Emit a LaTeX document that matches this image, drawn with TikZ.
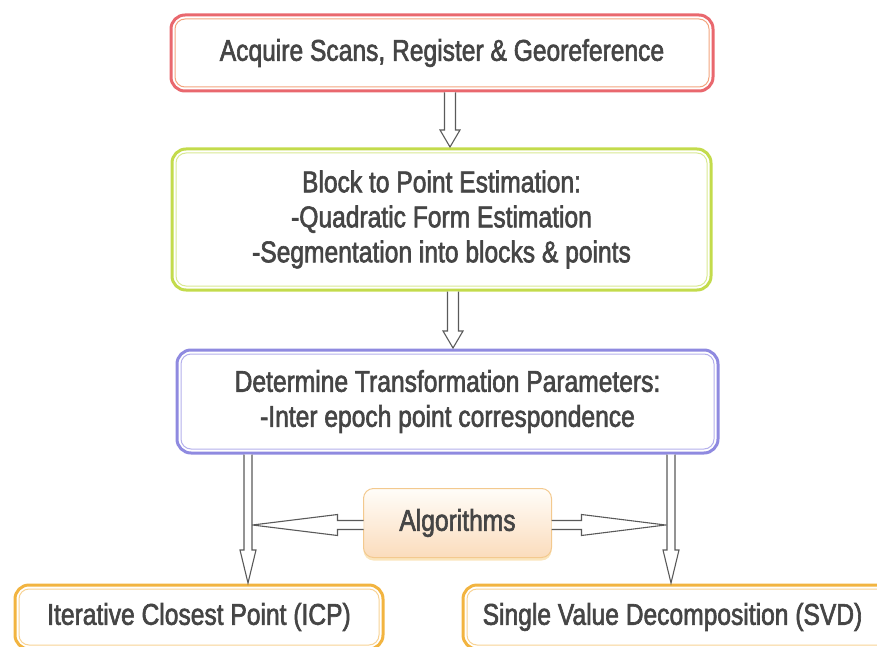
\documentclass[tikz,border=0pt]{standalone}
\usepackage{fontspec}
\setmainfont{Liberation Sans}[FakeStretch=0.82, FakeBold=2]
\usetikzlibrary{calc,shadows}

\definecolor{scanred}{HTML}{E9686E}
\definecolor{scaninner}{HTML}{F3A57E}
\definecolor{blockgreen}{HTML}{C3DB4C}
\definecolor{blockinner}{HTML}{D9E992}
\definecolor{paramblue}{HTML}{8F8AE0}
\definecolor{paraminner}{HTML}{B4B0EC}
\definecolor{methodorange}{HTML}{F2B440}
\definecolor{methodinner}{HTML}{F8D394}
\definecolor{algoedge}{HTML}{F3C98E}
\definecolor{algotop}{HTML}{FFFDF9}
\definecolor{algobottom}{HTML}{FBDCBC}
\definecolor{txtgray}{HTML}{454545}
\definecolor{arrowgray}{HTML}{5A5A5A}

\tikzset{
  stage/.style={draw=#1, line width=3pt, rounded corners=14pt, outer sep=0pt,
    fill=white, align=center, text=txtgray, font=\fontsize{30}{35}\selectfont},
  inner/.style={draw=#1, line width=1pt, rounded corners=10pt},
  algobox/.style={draw=algoedge, line width=1pt, rounded corners=10pt, outer sep=0pt,
    top color=algotop, bottom color=algobottom, text=txtgray,
    font=\fontsize{30}{35}\selectfont,
    drop shadow={shadow xshift=0pt, shadow yshift=-3pt, fill=methodorange, opacity=0.35}},
  hollow/.style={draw=arrowgray, line width=1.1pt, fill=white, line join=miter},
}

% start, tip, shaft half width, head half width, head length
\newcommand{\hollowarrow}[5]{%
  \coordinate (hb) at ($(#2)!#5!(#1)$);
  \draw[hollow] ($(#1)!#3!90:(#2)$) -- ($(hb)!#3!-90:(#1)$) -- ($(hb)!#4!-90:(#1)$)
    -- (#2) -- ($(hb)!#4!90:(#1)$) -- ($(hb)!#3!90:(#1)$) -- ($(#1)!#3!-90:(#2)$);}

\begin{document}
\begin{tikzpicture}[x=1pt, y=-1pt]
\useasboundingbox (0,0) rectangle (877,647);
\clip (0,0) rectangle (877,647);

% Processing stages
\node[stage=scanred, minimum width=542pt, minimum height=76pt] (scan) at (442,53)
  {Acquire Scans, Register \& Georeference};
\node[stage=blockgreen, minimum width=539pt, minimum height=141pt] (block) at (441.5,219.5)
  {Block to Point Estimation:\\-Quadratic Form Estimation\\-Segmentation into blocks \& points};
\node[stage=paramblue, minimum width=541pt, minimum height=103pt] (param) at (447.5,401.5)
  {Determine Transformation Parameters:\\-Inter epoch point correspondence};

% Algorithms
\node[algobox, minimum width=188pt, minimum height=69pt] (algo) at (457.5,523) {Algorithms};

% Methods
\node[stage=methodorange, minimum width=368pt, minimum height=64pt] (icp) at (199,617)
  {Iterative Closest Point (ICP)};
\node[stage=methodorange, minimum width=440pt, minimum height=64pt] (svd) at (683,617)
  {Single Value Decomposition (SVD)\hspace*{21pt}};

% Inner border lines
\draw[inner=scaninner] ($(scan.south west)+(4,-4)$) rectangle ($(scan.north east)+(-4,4)$);
\draw[inner=blockinner] ($(block.south west)+(4,-4)$) rectangle ($(block.north east)+(-4,4)$);
\draw[inner=paraminner] ($(param.south west)+(4,-4)$) rectangle ($(param.north east)+(-4,4)$);
\draw[inner=methodinner] ($(icp.south west)+(4,-4)$) rectangle ($(icp.north east)+(-4,4)$);
\draw[inner=methodinner] ($(svd.south west)+(4,-4)$) rectangle ($(svd.north east)+(-4,4)$);

% Arrow ends
\coordinate (s1) at ($(scan.south)+(8,1.5)$);
\coordinate (t1) at ($(block.north)+(8.5,-2)$);
\coordinate (s2) at ($(block.south)+(11.5,1.5)$);
\coordinate (t2) at ($(param.north)+(5.5,-2)$);
\coordinate (sl) at ($(param.south)+(-199.5,1.5)$);
\coordinate (tl) at ($(icp.north)+(49,-2)$);
\coordinate (sr) at ($(param.south)+(223.5,1.5)$);
\coordinate (tr) at ($(svd.north)+(-12,-2)$);
\coordinate (hl) at ($(algo.west)+(0,2)$);
\coordinate (hlt) at ($(algo.west)+(-111,2)$);
\coordinate (hr) at ($(algo.east)+(0,2)$);
\coordinate (hrt) at ($(algo.east)+(114,2)$);

% Flow arrows
\hollowarrow{s1}{t1}{5.5pt}{10pt}{17pt}
\hollowarrow{s2}{t2}{5.5pt}{10pt}{17pt}
\hollowarrow{hl}{hlt}{4.5pt}{10.5pt}{85pt}
\hollowarrow{hr}{hrt}{4.5pt}{10.5pt}{84pt}
\hollowarrow{sl}{tl}{4pt}{8pt}{33pt}
\hollowarrow{sr}{tr}{4pt}{8pt}{33pt}
\end{tikzpicture}
\end{document}
